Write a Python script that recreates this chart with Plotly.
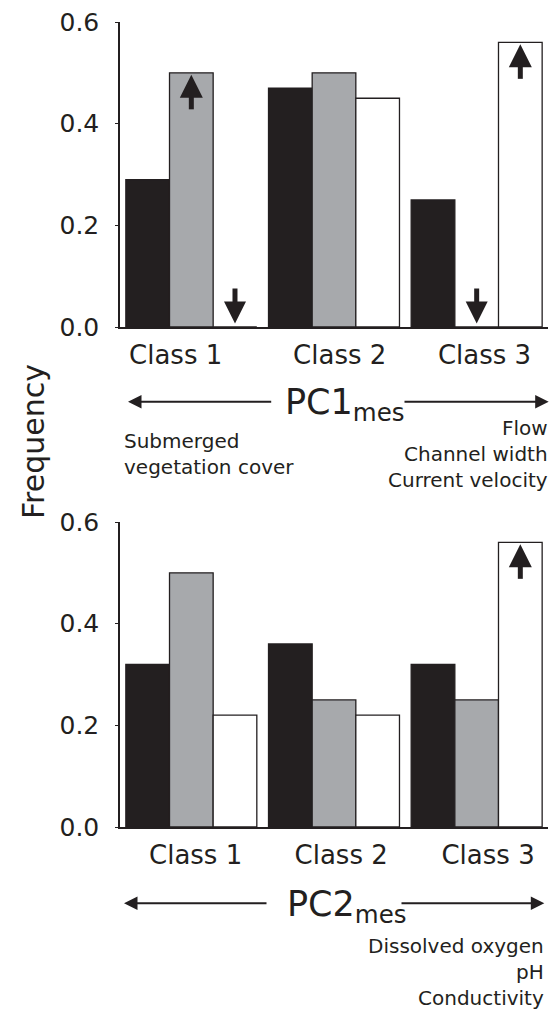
import plotly.graph_objects as go

# ---------------- data ----------------
categories = ["Class 1", "Class 2", "Class 3"]
y_ticks = [0.0, 0.2, 0.4, 0.6]

pc1_black = [0.29, 0.47, 0.25]
pc1_gray = [0.50, 0.50, 0.00]
pc1_white = [0.00, 0.45, 0.56]

pc2_black = [0.32, 0.36, 0.32]
pc2_gray = [0.50, 0.25, 0.25]
pc2_white = [0.22, 0.22, 0.56]

# significance arrows per series and class ("up", "down" or "")
pc1_arrows_black = ["", "", ""]
pc1_arrows_gray = ["up", "", "down"]
pc1_arrows_white = ["down", "", "up"]
pc2_arrows_black = ["", "", ""]
pc2_arrows_gray = ["", "", ""]
pc2_arrows_white = ["", "", "up"]

pc1_left_text = "Submerged<br>vegetation cover"
pc1_right_text = "Flow<br>Channel width<br>Current velocity"
pc2_right_text = "Dissolved oxygen<br>pH<br>Conductivity"

# ---------------- layout constants ----------------
W, H = 552, 1014
L, R, T, B = 120, 4, 22, 187
PW, PH = W - L - R, H - T - B
YMAX = 0.6
SUB_H = 305  # pixel height of each panel
UNIT = YMAX / SUB_H  # data units per pixel
BARGAP = 0.082
FILL = ["#231f20", "#a7a9ac", "#ffffff"]
INK = "#231f20"
FONT = "DejaVu Sans"


def px_x(px):
    return (px - L) / PW


def px_y(py):
    return (H - B - py) / PH


top_domain = [(PH - SUB_H) / PH, 1.0]
bot_domain = [0.0, SUB_H / PH]

fig = go.Figure()

panels = [
    ("x", "y", [pc1_black, pc1_gray, pc1_white],
     [pc1_arrows_black, pc1_arrows_gray, pc1_arrows_white]),
    ("x2", "y2", [pc2_black, pc2_gray, pc2_white],
     [pc2_arrows_black, pc2_arrows_gray, pc2_arrows_white]),
]

xs = list(range(len(categories)))
bw = (1 - BARGAP) / 3

for xa, ya, series, arrows in panels:
    for k, vals in enumerate(series):
        fig.add_trace(go.Bar(
            x=xs, y=vals, xaxis=xa, yaxis=ya,
            marker=dict(color=FILL[k], line=dict(color=INK, width=1.3)),
            showlegend=False, hoverinfo="skip",
        ))
    up_x, up_y, dn_x, dn_y, st_x, st_y = [], [], [], [], [], []
    for k, (vals, flags) in enumerate(zip(series, arrows)):
        for i, f in enumerate(flags):
            cx = xs[i] + (k - 1) * bw
            if f == "up":
                tip = vals[i] - 2 * UNIT
                up_x.append(cx); up_y.append(tip)
                st_x += [cx, cx, None]
                st_y += [tip - 21 * UNIT, tip - 34.5 * UNIT, None]
            elif f == "down":
                tip = vals[i] + 3.5 * UNIT
                dn_x.append(cx); dn_y.append(tip)
                st_x += [cx, cx, None]
                st_y += [tip + 20.5 * UNIT, tip + 35 * UNIT, None]
    if st_x:
        fig.add_trace(go.Scatter(x=st_x, y=st_y, xaxis=xa, yaxis=ya, mode="lines",
                                 line=dict(color=INK, width=5), showlegend=False,
                                 hoverinfo="skip"))
    if up_x:
        fig.add_trace(go.Scatter(x=up_x, y=up_y, xaxis=xa, yaxis=ya, mode="markers",
                                 marker=dict(symbol="arrow-up", size=23, color=INK,
                                             line=dict(width=0)),
                                 showlegend=False, hoverinfo="skip"))
    if dn_x:
        fig.add_trace(go.Scatter(x=dn_x, y=dn_y, xaxis=xa, yaxis=ya, mode="markers",
                                 marker=dict(symbol="arrow-down", size=22, color=INK,
                                             line=dict(width=0)),
                                 showlegend=False, hoverinfo="skip"))

yaxis_common = dict(
    range=[0, YMAX], tickvals=y_ticks, tickformat=".1f",
    showline=True, linecolor=INK, linewidth=1.5,
    ticks="outside", ticklen=3, tickcolor=INK, tickwidth=1,
    showgrid=False, zeroline=False,
    tickfont=dict(family=FONT, size=25, color=INK),
    ticklabelstandoff=11,
)
xaxis_common = dict(
    range=[-0.5, 2.5], showline=True, linecolor=INK, linewidth=1.5,
    ticks="", showgrid=False, zeroline=False, ticktext=categories,
    tickfont=dict(family=FONT, size=26, color=INK),
    ticklabelstandoff=4,
)

fig.update_layout(
    width=W, height=H,
    margin=dict(l=L, r=R, t=T, b=B),
    paper_bgcolor="white", plot_bgcolor="white",
    barmode="group", bargap=BARGAP, bargroupgap=0,
    xaxis=dict(xaxis_common, anchor="y", domain=[0, 1],
               tickvals=[-0.11, 1.04, 2.055]),
    yaxis=dict(yaxis_common, anchor="x", domain=top_domain),
    xaxis2=dict(xaxis_common, anchor="y2", domain=[0, 1],
                tickvals=[0.03, 1.05, 2.08]),
    yaxis2=dict(yaxis_common, anchor="x2", domain=bot_domain),
    font=dict(family=FONT, color=INK),
)

ann = []
# y title
ann.append(dict(text="Frequency", x=px_x(33), y=px_y(442), xref="paper", yref="paper",
                textangle=-90, showarrow=False, xanchor="center", yanchor="middle",
                font=dict(size=30, family=FONT, color=INK)))

# PC labels and arrows
for label, y_arrow, x_center, left_tip, left_tail, right_tail, right_tip in [
    ("PC1<sub>mes</sub>", 401.7, 345, 128, 272.7, 403, 548.7),
    ("PC2<sub>mes</sub>", 903.3, 347, 124, 268, 400, 544.3),
]:
    ann.append(dict(text=label, x=px_x(x_center), y=px_y(y_arrow + 3), xref="paper",
                    yref="paper", showarrow=False, xanchor="center", yanchor="middle",
                    font=dict(size=35, family=FONT, color=INK)))
    for tip, tail in [(left_tip, left_tail), (right_tip, right_tail)]:
        ann.append(dict(text="", x=px_x(tip), y=px_y(y_arrow), xref="paper", yref="paper",
                        showarrow=True, ax=tail - tip, ay=0, axref="pixel", ayref="pixel",
                        arrowhead=2, arrowsize=1.35, arrowwidth=2, arrowcolor=INK,
                        standoff=0, startstandoff=0))

# descriptor texts
ann.append(dict(text=pc1_left_text, x=px_x(122), y=px_y(427), xref="paper", yref="paper",
                showarrow=False, xanchor="left", yanchor="top", align="left",
                font=dict(size=20, family=FONT, color=INK)))
ann.append(dict(text=pc1_right_text, x=px_x(550), y=px_y(414), xref="paper", yref="paper",
                showarrow=False, xanchor="right", yanchor="top", align="right",
                font=dict(size=20, family=FONT, color=INK)))
ann.append(dict(text=pc2_right_text, x=px_x(546), y=px_y(932), xref="paper", yref="paper",
                showarrow=False, xanchor="right", yanchor="top", align="right",
                font=dict(size=20, family=FONT, color=INK)))

fig.update_layout(annotations=ann)

fig.write_html("out.html", config={"displayModeBar": False},
               post_script="document.body.style.margin='0';document.body.style.overflow='hidden';")
